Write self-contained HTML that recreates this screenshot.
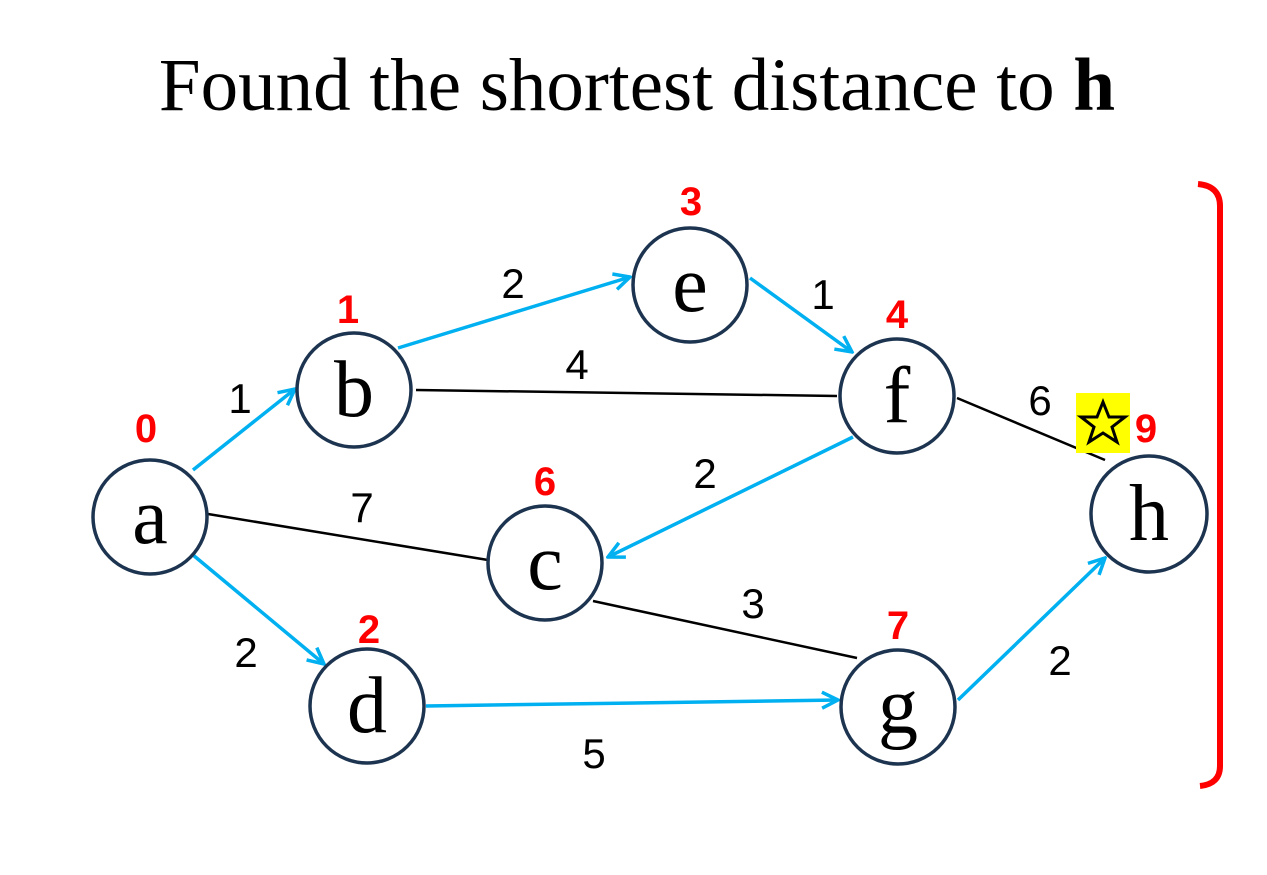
<!DOCTYPE html>
<html><head><meta charset="utf-8"><style>
body{margin:0;background:#fff;}
svg{display:block}
.n{fill:#fff;stroke:#1d3450;stroke-width:3.5}
.bl{stroke:#00b0f0;stroke-width:3.5;fill:none}
.bk{stroke:#000;stroke-width:2.5;fill:none}
.l{font-family:"Liberation Sans",sans-serif;font-size:42px;fill:#000;text-anchor:middle}
.r{font-family:"Liberation Sans",sans-serif;font-size:40px;font-weight:bold;fill:#f00;text-anchor:middle}
.t{font-family:"Liberation Serif",serif;font-size:80px;fill:#000;text-anchor:middle}
</style></head><body>
<svg width="1267" height="875" viewBox="0 0 1267 875">
<defs>
<marker id="ar2" markerWidth="22" markerHeight="22" refX="20" refY="11" orient="auto" markerUnits="userSpaceOnUse">
<path d="M4,3 L20,11 L4,19" fill="none" stroke="#00b0f0" stroke-width="3.5"/></marker></defs>
<text x="637" y="110" font-family="Liberation Serif,serif" font-size="75" text-anchor="middle">Found the shortest distance to <tspan font-weight="bold">h</tspan></text>
<line class="bk" x1="416" y1="390" x2="837" y2="396"/>
<line class="bk" x1="957" y1="398" x2="1105" y2="460"/>
<line class="bk" x1="208" y1="514" x2="488" y2="560"/>
<line class="bk" x1="593" y1="601" x2="857" y2="658"/>
<line class="bl" x1="193" y1="470" x2="295" y2="389" marker-end="url(#ar2)"/>
<line class="bl" x1="398" y1="348" x2="630" y2="277" marker-end="url(#ar2)"/>
<line class="bl" x1="750" y1="278" x2="852" y2="352" marker-end="url(#ar2)"/>
<line class="bl" x1="853" y1="437" x2="608" y2="557" marker-end="url(#ar2)"/>
<line class="bl" x1="193" y1="555" x2="324" y2="664" marker-end="url(#ar2)"/>
<line class="bl" x1="426" y1="706" x2="838" y2="700" marker-end="url(#ar2)"/>
<line class="bl" x1="958" y1="700" x2="1105" y2="558" marker-end="url(#ar2)"/>
<circle class="n" cx="150" cy="517" r="57"/><text class="t" x="150" y="543">a</text>
<circle class="n" cx="354" cy="390" r="57"/><text class="t" x="354" y="416">b</text>
<circle class="n" cx="690" cy="285" r="57"/><text class="t" x="690" y="311">e</text>
<circle class="n" cx="897" cy="396" r="57"/><text class="t" x="897" y="422">f</text>
<circle class="n" cx="545" cy="563" r="57"/><text class="t" x="545" y="589">c</text>
<circle class="n" cx="1149" cy="514" r="58"/><text class="t" x="1149" y="540">h</text>
<circle class="n" cx="367" cy="706" r="57"/><text class="t" x="367" y="732">d</text>
<circle class="n" cx="898" cy="707" r="57"/><text class="t" x="898" y="733">g</text>
<text class="l" x="240" y="413">1</text>
<text class="l" x="513" y="298">2</text>
<text class="l" x="823" y="309">1</text>
<text class="l" x="577" y="379">4</text>
<text class="l" x="1040" y="415">6</text>
<text class="l" x="705" y="488">2</text>
<text class="l" x="362" y="522">7</text>
<text class="l" x="753" y="618">3</text>
<text class="l" x="246" y="667">2</text>
<text class="l" x="594" y="768">5</text>
<text class="l" x="1060" y="675">2</text>
<text class="r" x="146" y="442">0</text>
<text class="r" x="348" y="323">1</text>
<text class="r" x="691" y="215">3</text>
<text class="r" x="897" y="328">4</text>
<text class="r" x="545" y="495">6</text>
<text class="r" x="369" y="643">2</text>
<text class="r" x="898" y="639">7</text>
<rect x="1076" y="393" width="54" height="60" fill="#ffff00"/>
<polygon points="1103,402 1109,417 1125,417 1112,427 1117,442 1103,433 1089,442 1094,427 1081,417 1097,417" fill="none" stroke="#000" stroke-width="3"/>
<text class="r" x="1146" y="442">9</text>
<path d="M1198,184 Q1220,186 1220,206 L1220,766 Q1220,784 1200,786" fill="none" stroke="#ff0000" stroke-width="6"/>
</svg>
</body></html>
